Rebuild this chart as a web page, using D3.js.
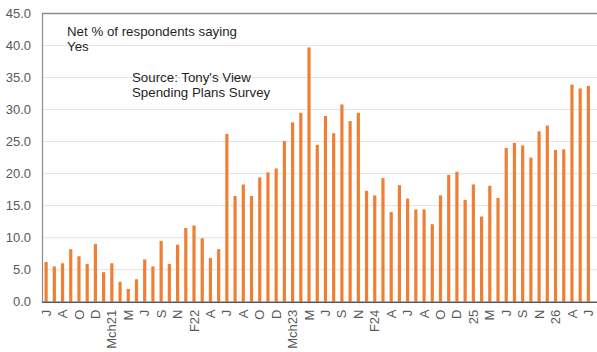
<!DOCTYPE html>
<html>
<head>
<meta charset="utf-8">
<script src="https://cdn.jsdelivr.net/npm/d3@7"></script>
<style>
  body { margin: 0; background: #fff; }
  svg { display: block; font-family: "Liberation Sans", Arial, sans-serif; }
</style>
</head>
<body>
<svg id="viz" width="597" height="352"></svg>
<script>
// net % saying yes, one bar per survey
var values = [
    6.2, 5.5, 6.0, 8.2, 7.1, 5.9, 9.0, 4.6, 6.0, 3.1, 2.0, 3.5,
    6.6, 5.5, 9.5, 5.9, 8.9, 11.5, 11.9, 9.9, 6.8, 8.2, 26.2, 16.5,
    18.3, 16.5, 19.4, 20.2, 20.8, 25.1, 28.0, 29.5, 39.7, 24.5, 29.0, 26.3,
    30.8, 28.2, 29.5, 17.3, 16.6, 19.3, 14.0, 18.2, 16.1, 14.4, 14.4, 12.1,
    16.6, 19.8, 20.3, 15.9, 18.3, 13.3, 18.1, 16.2, 24.0, 24.8, 24.4, 22.5,
    26.6, 27.5, 23.7, 23.8, 33.9, 33.3, 33.7
]

// every second bar gets a label
var tickLabels = [
    "J", "A", "O", "D", "Mch21", "M", "J", "S", "N", "F22",
    "A", "J", "A", "O", "D", "Mch23", "M", "J", "S", "N",
    "F24", "A", "J", "A", "O", "D", "25", "M", "J", "S",
    "N", "26", "A", "J"
]

var yTicks = [0, 5, 10, 15, 20, 25, 30, 35, 40, 45]

var notes = [
    {lines: ["Net % of respondents saying", "Yes"], x: 67, y: 36},
    {lines: ["Source: Tony's View", "Spending Plans Survey"], x: 132, y: 81.5}
]

let plotLeft = 42, plotRight = 592.5, plotTop = 13.5, plotBottom = 301.7
let svg = d3.select("#viz")

let x = d3.scaleBand()
    .domain(d3.range(values.length))
    .range([plotLeft, plotRight])

let y = d3.scaleLinear()
    .domain([0, 45])
    .range([plotBottom, plotTop])

// gridlines
svg.append("g")
    .selectAll("line")
    .data(yTicks.slice(1))
    .enter().append("line")
    .attr("x1", plotLeft)
    .attr("x2", 597)
    .attr("y1", d => y(d))
    .attr("y2", d => y(d))
    .style("stroke", "#e3e3e3")
    .style("stroke-width", 1)

// top border
svg.append("line")
    .attr("x1", plotLeft).attr("x2", 597)
    .attr("y1", y(45)).attr("y2", y(45))
    .style("stroke", "#8c8c8c")
    .style("stroke-width", 1.5)

let barW = 3.2
svg.append("g")
    .selectAll("rect")
    .data(values)
    .enter().append("rect")
    .attr("x", (d, i) => x(i) + x.bandwidth() / 2 - barW / 2)
    .attr("width", barW)
    .attr("y", d => y(d))
    .attr("height", d => y(0) - y(d))
    .style("fill", "#ef7f34")

// y axis
let yAxis = svg.append("g")
    .attr("transform", `translate(${plotLeft},0)`)
    .call(d3.axisLeft(y).tickValues(yTicks).tickFormat(d3.format(".1f")).tickSize(0).tickPadding(11))
yAxis.select(".domain").style("stroke", "#8c8c8c").style("stroke-width", 1.2)
yAxis.selectAll("text")
    .style("font-size", "13px")
    .style("fill", "#595959")
    .style("font-family", "Liberation Sans, Arial, sans-serif")

// x axis
let xAxis = svg.append("g")
    .attr("transform", `translate(0,${plotBottom})`)
    .call(d3.axisBottom(x)
        .tickValues(d3.range(0, values.length, 2))
        .tickFormat(i => tickLabels[i / 2])
        .tickSize(0))
xAxis.select(".domain")
    .attr("d", `M${plotLeft},0.5H597`)
    .style("stroke", "#595959")
    .style("stroke-width", 1.5)
xAxis.selectAll("text")
    .attr("transform", "rotate(-90)")
    .attr("x", -8)
    .attr("y", 0)
    .attr("dy", "0.35em")
    .style("text-anchor", "end")
    .style("font-size", "13px")
    .style("fill", "#595959")
    .style("font-family", "Liberation Sans, Arial, sans-serif")

// notes in the plot
notes.forEach(function (note) {
    let t = svg.append("text")
        .attr("x", note.x)
        .attr("y", note.y)
        .style("font-size", "13.3px")
        .style("fill", "#1f1f1f")
    note.lines.forEach(function (line, i) {
        t.append("tspan")
            .attr("x", note.x)
            .attr("dy", i == 0 ? 0 : 15)
            .text(line)
    })
})
</script>
</body>
</html>
